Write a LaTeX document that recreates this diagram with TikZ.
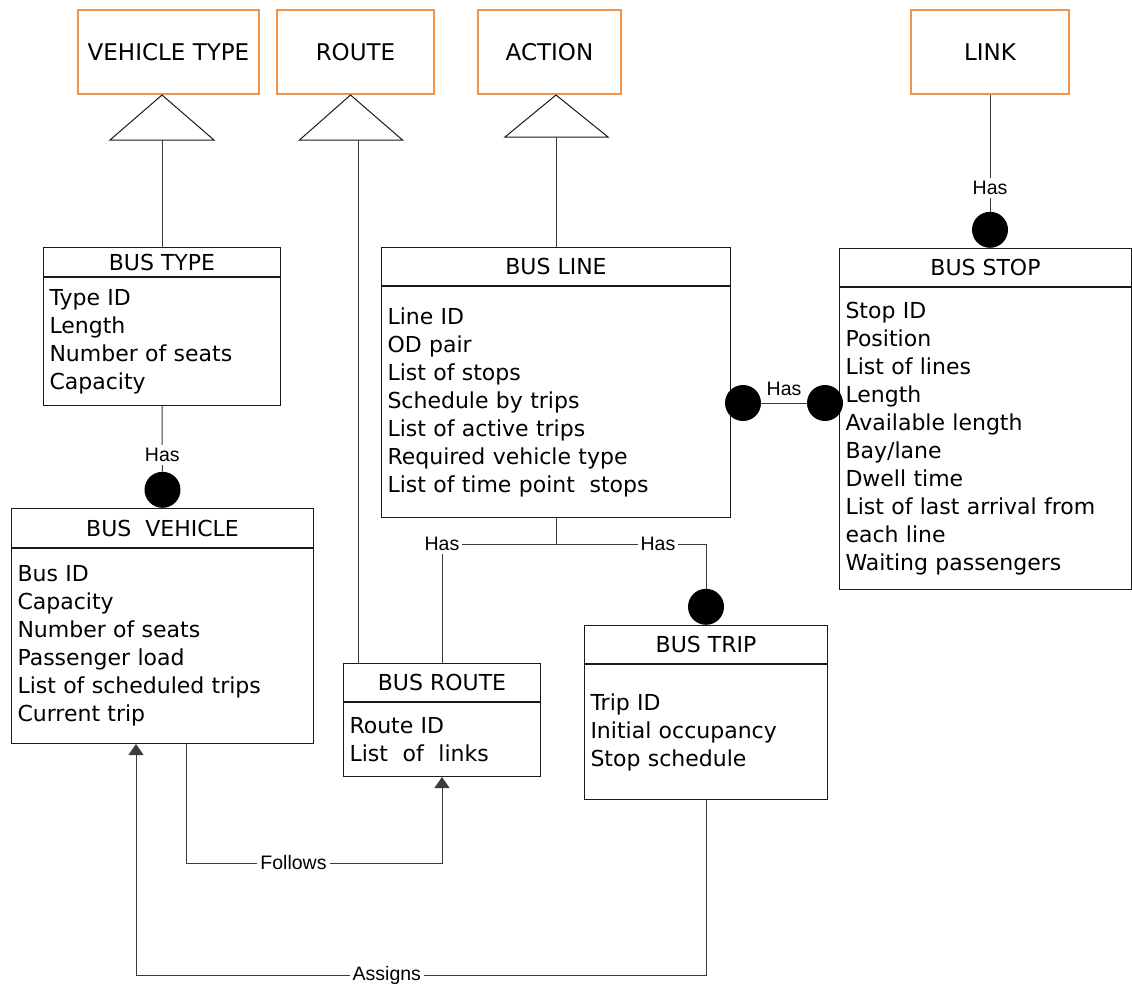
\documentclass[tikz,border=0pt]{standalone}
\usepackage{fontspec}
\setmainfont{DejaVu Sans}
\newfontfamily\tagfont{Liberation Sans}
\usetikzlibrary{arrows.meta,calc,positioning}
\definecolor{Ink}{HTML}{1A1A1A}
\definecolor{Wire}{HTML}{3C3C3C}
\definecolor{Peach}{HTML}{F2954A}
\tikzset{
  supertype/.style={
    draw=Peach, line width=2pt, minimum width=#1, minimum height=84pt,
    anchor=north west, inner sep=0pt, font=\fontsize{23}{28}\selectfont
  },
  entityhead/.style={
    draw=Ink, line width=1pt, minimum width=#1, minimum height=38pt,
    anchor=north west, inner sep=0pt, font=\fontsize{22}{28}\selectfont
  },
  entitybody/.style={
    draw=Ink, line width=1pt, align=left, inner xsep=6pt, inner ysep=0pt,
    below=0pt of #1, font=\fontsize{22}{28}\selectfont
  },
  dot/.style={circle, fill=black, minimum size=36pt, inner sep=0pt},
  wire/.style={draw=Wire, line width=1pt},
  tri/.style={draw=Ink, line width=1pt, fill=white},
  flow/.style={wire, -{Triangle[width=15pt,length=11pt]}},
  tag/.style={fill=white, inner sep=3pt, font=\tagfont\fontsize{19.5}{22}\selectfont}
}
\begin{document}
\begin{tikzpicture}[x=1pt,y=-1pt]
  \useasboundingbox (0,0) rectangle (1132,986);
  % super types
  \node[supertype=181pt] (vt) at (77,9) {VEHICLE TYPE};
  \node[supertype=157pt] (rt) at (276,9) {ROUTE};
  \node[supertype=143pt] (act) at (477,9) {ACTION};
  \node[supertype=158pt] (lnk) at (910,9) {LINK};

  % entities
  \node[entityhead=237pt, minimum height=29pt] (btype) at (43,247) {BUS TYPE};
  \node[entitybody=btype, text width=225pt, minimum height=128pt] (btypeb)
    {Type ID\\Length\\Number of seats\\Capacity};

  \node[entityhead=302pt, minimum height=39pt] (bveh) at (11,508) {BUS~~VEHICLE};
  \node[entitybody=bveh, text width=290pt, minimum height=195pt] (bvehb)
    {Bus ID\\Capacity\\Number of seats\\Passenger load\\List of scheduled trips\\Current trip};

  \node[entityhead=349pt] (bline) at (381,247) {BUS LINE};
  \node[entitybody=bline, text width=337pt, minimum height=231pt] (blineb)
    {Line ID\\OD pair\\List of stops\\Schedule by trips\\List of active trips\\Required vehicle type\\List of time point~~stops};

  \node[entityhead=292pt] (bstop) at (839,248) {BUS STOP};
  \node[entitybody=bstop, text width=280pt, minimum height=302pt] (bstopb)
    {Stop ID\\Position\\List of lines\\Length\\Available length\\Bay/lane\\Dwell time\\List of last arrival from\\each line\\Waiting passengers};

  \node[entityhead=197pt] (broute) at (343,663) {BUS ROUTE};
  \node[entitybody=broute, text width=185pt, minimum height=74pt] (brouteb)
    {Route ID\\List~~of~~links};

  \node[entityhead=243pt] (btrip) at (584,625) {BUS TRIP};
  \node[entitybody=btrip, text width=231pt, minimum height=135pt] (btripb)
    {Trip ID\\Initial occupancy\\Stop schedule};

  % generalisation triangles
  \coordinate (vtapex) at (btype.north |- vt.south);
  \coordinate (rtapex) at ($(rt.south)+(-5,0)$);
  \coordinate (actapex) at (bline.north |- act.south);
  \draw[tri] (vtapex) -- ++(-52,45) -- ++(104,0) -- cycle;
  \draw[tri] (rtapex) -- ++(-51,45) -- ++(103,0) -- cycle;
  \draw[tri] (actapex) -- ++(-51,42) -- ++(103,0) -- cycle;
  \coordinate (vtbase) at ($(vtapex)+(0,45)$);
  \coordinate (rtbase) at ($(rtapex)+(8,45)$);
  \coordinate (actbase) at ($(actapex)+(0,42)$);
  \draw[wire] (vtbase) -- (btype.north);
  \draw[wire] (rtbase) -- (rtbase |- broute.north);
  \draw[wire] (actbase) -- (bline.north);

  % associations
  \node[dot, anchor=south] (dveh) at (bveh.north) {};
  \node[dot, anchor=south] (dstop) at (lnk.south |- bstop.north) {};
  \node[dot, anchor=south] (dtrip) at (btrip.north) {};
  \node[dot] (dline) at (743,403) {};
  \node[dot] (dstopl) at (825,403) {};

  \draw[wire] (btypeb.south) -- node[tag, pos=0.75]{Has} (dveh);
  \draw[wire] (lnk) -- node[tag, pos=0.8]{Has} (dstop);
  \draw[wire] (dline) -- node[tag, above=4pt, fill=none]{Has} (dstopl);
  \draw[wire] (blineb.south) -- ++(0,26) coordinate (fork)
    -| node[tag, pos=0.5]{Has} (broute.north);
  \draw[wire] (fork) -| node[tag, pos=0.34]{Has} (dtrip);

  \coordinate (followy) at (0,863);
  \coordinate (assigny) at (0,975);
  \coordinate (vehout) at ($(bvehb.south west)+(175,0)$);
  \coordinate (vehin) at ($(bvehb.south west)+(125,0)$);
  \draw[flow] (vehout) -- (vehout |- followy)
    -- node[tag, pos=0.42]{Follows} (brouteb.south |- followy) -- (brouteb.south);
  \draw[flow] (btripb.south) -- (btripb.south |- assigny)
    -- node[tag, pos=0.56]{Assigns} (vehin |- assigny) -- (vehin);
\end{tikzpicture}
\end{document}
